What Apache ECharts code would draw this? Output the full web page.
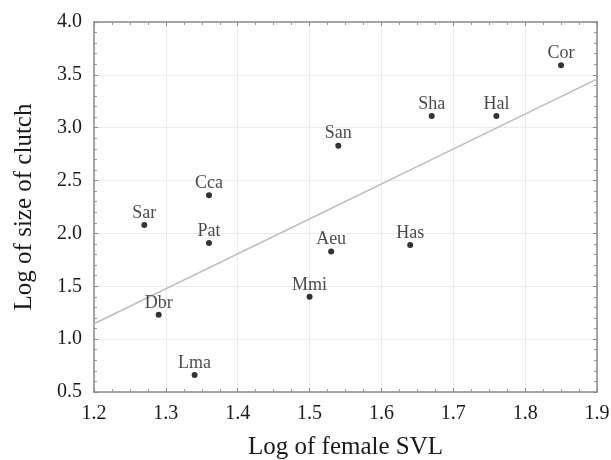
<!DOCTYPE html>
<html><head><meta charset="utf-8">
<script src="https://cdn.jsdelivr.net/npm/echarts@6/dist/echarts.min.js"></script>
<style>html,body{margin:0;padding:0;background:#fff}#c{width:611px;height:460px}</style>
</head><body><div id="c"></div>
<script>
var species = ['Cor','Sha','Hal','San','Cca','Sar','Pat','Aeu','Has','Mmi','Dbr','Lma'];
var logSVL = [1.85,1.67,1.76,1.54,1.36,1.27,1.36,1.53,1.64,1.50,1.29,1.34];
var logClutch = [3.59,3.11,3.11,2.83,2.36,2.08,1.91,1.83,1.89,1.40,1.23,0.66];
var fitX = [1.2, 1.9];
var fitY = [1.146, 3.46];
var xTicks = [1.2,1.3,1.4,1.5,1.6,1.7,1.8,1.9];
var yTicks = [0.5,1.0,1.5,2.0,2.5,3.0,3.5,4.0];

var font = 'Liberation Serif';
var pts = species.map(function(s,i){return {value:[logSVL[i],logClutch[i]], name:s};});
var fit = fitX.map(function(x,i){return [x,fitY[i]];});
var lineStyleAx = {color:'#8a8a8a',width:1.5};
var tickStyle = {show:true,inside:true,length:4,lineStyle:{color:'#8a8a8a'}};
var chart = echarts.init(document.getElementById('c'));
chart.setOption({
  animation:false,
  grid:{left:94,right:14,top:22,bottom:68,containLabel:false,outerBoundsMode:'none'},
  xAxis:[{type:'value',min:xTicks[0],max:xTicks[xTicks.length-1],interval:0.1,
    axisLine:{show:true,onZero:false,lineStyle:lineStyleAx},axisTick:tickStyle,
    minorTick:{show:true,splitNumber:4,length:3,lineStyle:{color:'#999'}},
    splitLine:{show:true,lineStyle:{color:'#ebebeb',width:1}},
    axisLabel:{fontFamily:font,fontSize:20,color:'#1a1a1a',margin:12,formatter:function(v){return v.toFixed(1);}},
    name:'Log of female SVL',nameLocation:'middle',nameGap:43,
    nameTextStyle:{fontFamily:font,fontSize:25,color:'#1a1a1a'}},
    {type:'value',position:'top',min:xTicks[0],max:xTicks[xTicks.length-1],interval:0.1,
    axisLine:{show:true,lineStyle:lineStyleAx},axisTick:tickStyle,
    minorTick:{show:true,splitNumber:4,length:3,lineStyle:{color:'#999'}},axisLabel:{show:false},splitLine:{show:false}}],
  yAxis:[{type:'value',min:yTicks[0],max:yTicks[yTicks.length-1],interval:0.5,
    axisLine:{show:true,onZero:false,lineStyle:lineStyleAx},axisTick:tickStyle,
    minorTick:{show:true,splitNumber:5,length:3,lineStyle:{color:'#999'}},
    splitLine:{show:true,lineStyle:{color:'#ebebeb',width:1}},
    axisLabel:{fontFamily:font,fontSize:20,color:'#1a1a1a',margin:12,formatter:function(v){return v.toFixed(1);}},
    name:'Log of size of clutch',nameLocation:'middle',nameGap:57,
    nameTextStyle:{fontFamily:font,fontSize:25,color:'#1a1a1a'}},
    {type:'value',position:'right',min:yTicks[0],max:yTicks[yTicks.length-1],interval:0.5,
    axisLine:{show:true,lineStyle:lineStyleAx},axisTick:tickStyle,
    minorTick:{show:true,splitNumber:5,length:3,lineStyle:{color:'#999'}},axisLabel:{show:false},splitLine:{show:false}}],
  series:[
    {type:'line',data:fit,showSymbol:false,symbol:'none',lineStyle:{color:'#bdbdbd',width:1.5},z:1,silent:true},
    {type:'scatter',data:pts,symbol:'circle',symbolSize:6,itemStyle:{color:'#000'},z:3,
      label:{show:true,position:'top',distance:0,formatter:'{b}',fontFamily:font,fontSize:18,color:'#1a1a1a'}}
  ]
});
</script></body></html>
